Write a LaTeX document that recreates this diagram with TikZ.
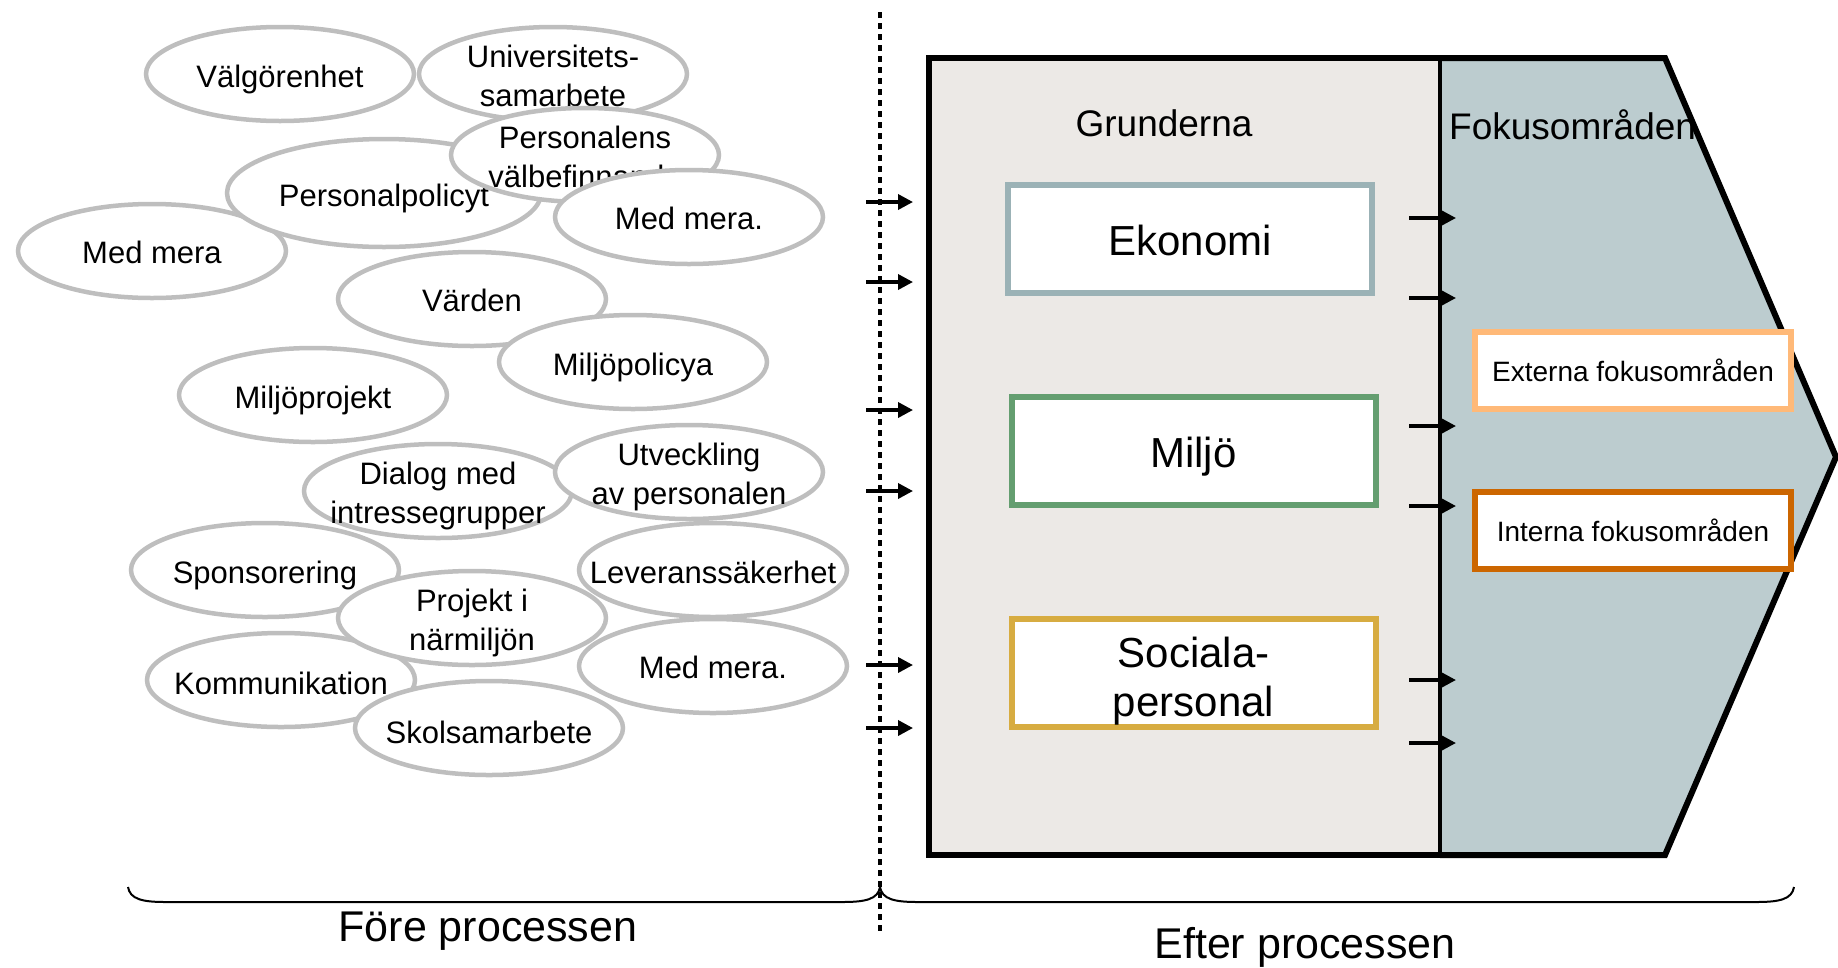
\documentclass[tikz,border=0pt]{standalone}
\usepackage{fontspec}
\setmainfont{Liberation Sans}
\usetikzlibrary{shapes.geometric, arrows.meta}
\definecolor{ovalgray}{RGB}{190,190,190}
\definecolor{beigefill}{RGB}{236,233,230}
\definecolor{bluegrayfill}{RGB}{188,204,207}
\definecolor{ekoborder}{RGB}{155,178,182}
\definecolor{miljoborder}{RGB}{100,158,112}
\definecolor{socborder}{RGB}{215,172,65}
\definecolor{extborder}{RGB}{255,185,120}
\definecolor{intborder}{RGB}{204,102,0}
\tikzset{
  oval/.style={ellipse, draw=ovalgray, line width=4.5pt, fill=white,
    minimum width=268pt, minimum height=94pt, inner sep=0pt},
  bigoval/.style={oval, minimum width=314pt, minimum height=108pt},
  ovaltext/.style={font=\fontsize{31}{38.5}\selectfont, align=center, inner sep=0pt},
  grundbox/.style={draw, line width=6pt, fill=white, minimum width=364pt,
    minimum height=108pt, inner sep=0pt},
  boxtext/.style={font=\fontsize{42}{49}\selectfont, align=center, inner sep=0pt},
  fokusbox/.style={draw, line width=6pt, fill=white, minimum width=316pt,
    minimum height=77pt, inner sep=0pt, font=\fontsize{28}{34}\selectfont},
  conn/.style={line width=3.5pt, -{Triangle[length=15pt,width=15pt]}},
  bracestyle/.style={line width=2pt},
  heading/.style={font=\fontsize{37}{44}\selectfont, inner sep=0pt},
  caption/.style={font=\fontsize{43}{50}\selectfont, inner sep=0pt},
}
% #1 style, #2 name, #3 position, #4 shift of the last baseline, #5 text
\newcommand\ovalitem[5]{%
  \node[#1] (#2) at (#3) {};
  \node[ovaltext, anchor=base] (#2-t) at ([yshift=#4]#2.center) {#5};
}
\begin{document}
\begin{tikzpicture}[x=1pt,y=-1pt]
\useasboundingbox (0,0) rectangle (1838,967);
\clip (0,0) rectangle (1838,967);

% ---- big process shape ----
\coordinate (tl) at (929,58);
\coordinate (bl) at (929,855);
\coordinate (dt) at (1440,58);
\coordinate (db) at (1440,855);
\coordinate (ct) at (1665,58);
\coordinate (cb) at (1665,855);
\coordinate (tip) at (1836,457);
\fill[beigefill] (tl) rectangle (db);
\fill[bluegrayfill] (dt) -- (ct) -- (tip) -- (cb) -- (db) -- cycle;
\draw[line width=6pt, line join=miter] (dt) -- (tl) -- (bl) -- (db);
\draw[line width=6pt, line join=miter] (dt) -- (ct) -- (tip) -- (cb) -- (db);
\draw[line width=4pt] (dt) -- (db);

\node[heading] (grund) at (1164,123) {Grunderna};
\node[heading, anchor=west] (fokus) at (1449,125) {Fokusområden};

\node[grundbox, draw=ekoborder] (eko) at (1190,239) {};
\node[boxtext, anchor=base] (eko-t) at ([yshift=-16pt]eko.center) {Ekonomi};
\node[grundbox, draw=miljoborder] (miljo) at (1193.5,450.5) {};
\node[boxtext, anchor=base] (miljo-t) at ([yshift=-17pt]miljo.center) {Miljö};
\node[grundbox, draw=socborder] (soc) at (1193.5,673) {};
\node[boxtext, anchor=base] (soc-t) at ([yshift=-43pt]soc.center) {Sociala-\\personal};

\node[fokusbox, draw=extborder] (ext) at (1633,370.5) {Externa fokusområden};
\node[fokusbox, draw=intborder] (int) at (1633,530.5) {Interna fokusområden};

% ---- dotted divider ----
\coordinate (dtop) at (880,12);
\coordinate (dbot) at (880,933);
\draw[line width=4.5pt, dash pattern=on 6pt off 5pt] (dtop) -- (dbot);

% ---- arrows ----
\foreach \yy [count=\i] in {202,282,410,491,665,728} {
  \coordinate (la\i s) at (866,\yy);
  \coordinate (la\i e) at (913,\yy);
  \draw[conn] (la\i s) -- (la\i e);
}
\foreach \yy [count=\i] in {218,298,426,506,680,743} {
  \coordinate (ra\i s) at (1409,\yy);
  \coordinate (ra\i e) at (1456,\yy);
  \draw[conn] (ra\i s) -- (ra\i e);
}

% ---- ovals ----
\ovalitem{oval}{valg}{280,74}{-13pt}{Välgörenhet}
\ovalitem{oval}{univ}{553,74}{-32pt}{Universitets-\\samarbete}
\ovalitem{oval}{medl}{152,251}{-12pt}{Med mera}
\ovalitem{bigoval}{ppol}{384,193}{-13pt}{Personalpolicyt}
\ovalitem{oval}{pvalb}{585,155}{-32pt}{Personalens\\välbefinnande}
\ovalitem{oval}{medtr}{689,217}{-12pt}{Med mera.}
\ovalitem{oval}{varden}{472,299}{-12pt}{Värden}
\ovalitem{oval}{mpol}{633,362}{-13pt}{Miljöpolicya}
\ovalitem{oval}{mproj}{313,395}{-13pt}{Miljöprojekt}
\ovalitem{oval}{dialog}{438,491}{-32pt}{Dialog med\\intressegrupper}
\ovalitem{oval}{utv}{689,472}{-32pt}{Utveckling\\av personalen}
\ovalitem{oval}{spons}{265,570}{-13pt}{Sponsorering}
\ovalitem{oval}{komm}{281,680}{-14.5pt}{Kommunikation}
\ovalitem{oval}{proj}{472,618}{-32pt}{Projekt i\\närmiljön}
\ovalitem{oval}{lev}{713,570}{-13pt}{Leveranssäkerhet}
\ovalitem{oval}{medlr}{713,666}{-12pt}{Med mera.}
\ovalitem{oval}{skol}{489,728}{-15pt}{Skolsamarbete}

% ---- braces ----
\coordinate (lb1) at (128,887);
\coordinate (lbm) at (880,887);
\coordinate (rb2) at (1794,887);
\draw[bracestyle] (lb1) .. controls (130,899) and (142,902) .. (165,902)
  -- (843,902) .. controls (866,902) and (878,899) .. (lbm);
\draw[bracestyle] (lbm) .. controls (882,899) and (894,902) .. (917,902)
  -- (1757,902) .. controls (1780,902) and (1792,899) .. (rb2);

\node[caption] (fore) at (488,931.5) {Före processen};
\node[caption] (efter) at (1305,947.5) {Efter processen};
\end{tikzpicture}
\end{document}
